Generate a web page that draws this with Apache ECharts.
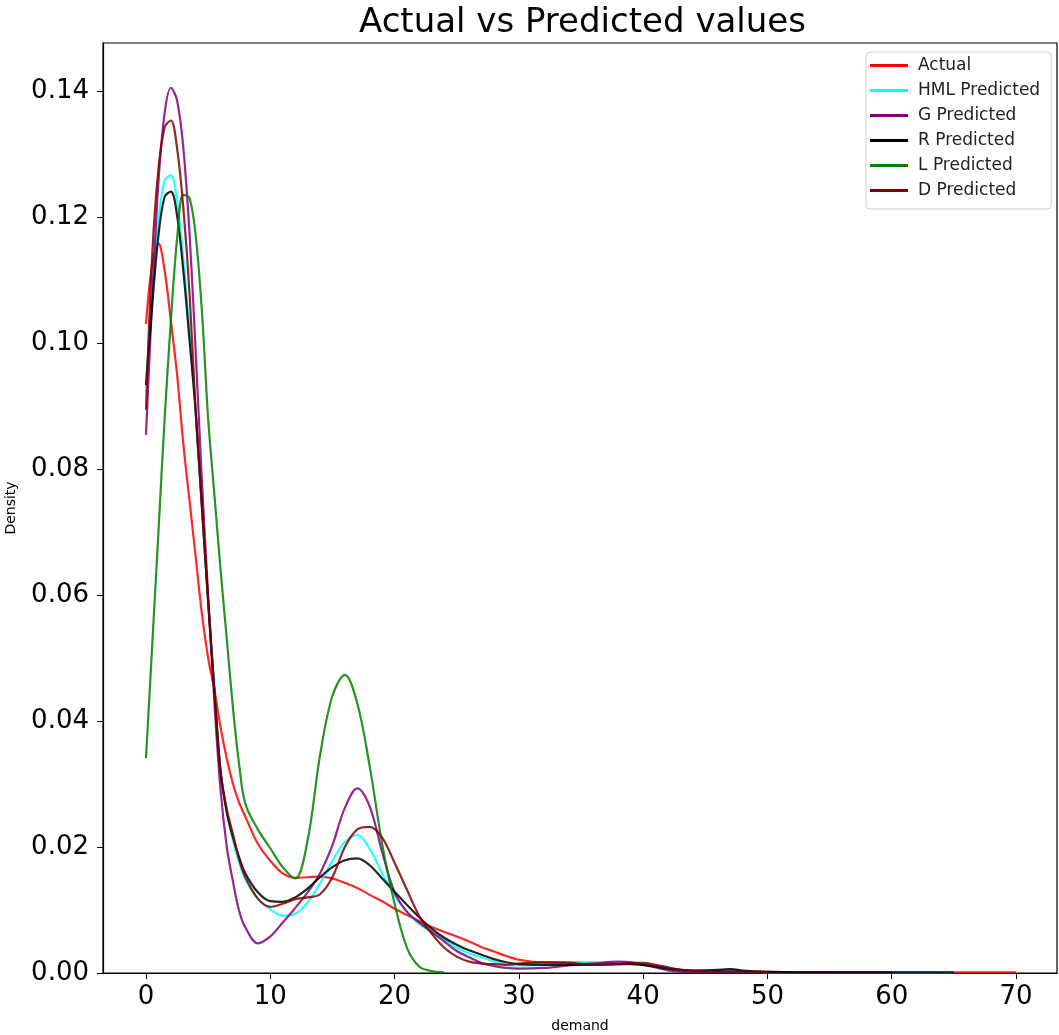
<!DOCTYPE html>
<html>
<head>
<meta charset="utf-8">
<title>Actual vs Predicted values</title>
<script src="https://cdn.jsdelivr.net/npm/echarts@6/dist/echarts.min.js"></script>
<style>
  html, body { margin: 0; padding: 0; background: #fff; }
  #chart { width: 1059px; height: 1035px; }
</style>
</head>
<body>
<div id="chart"></div>
<script>
// demand grid the KDE curves were read at
const demand = [0, 0.5, 1, 1.5, 2, 2.5, 3, 3.5, 4, 4.5, 5, 5.5, 6, 6.5, 7, 7.5, 8, 9, 10, 11,
  12, 13, 14, 15, 16, 17, 18, 19, 20, 21, 22, 23, 24, 25, 26, 27, 28, 29, 30, 32,
  34, 36, 38, 39, 40, 41, 42, 43, 44, 46, 47, 48, 50, 55, 60, 65, 70]

const actual = [0.103, 0.1125, 0.1158, 0.1115, 0.1035, 0.095, 0.084, 0.075, 0.066, 0.057, 0.050, 0.045, 0.039, 0.034, 0.030, 0.027, 0.0248, 0.0205, 0.0178, 0.0158,
  0.0151, 0.0152, 0.0153, 0.0150, 0.0143, 0.0135, 0.0124, 0.0114, 0.0102, 0.0092, 0.0082, 0.0073, 0.0065, 0.0058, 0.0050, 0.0041, 0.0034, 0.0027, 0.0021, 0.0017,
  0.0017, 0.0016, 0.0016, 0.0015, 0.0013, 0.0011, 0.0008, 0.0005, 0.0004, 0.0003, 0.0003, 0.0002, 0.0002, 0.0001, 0.0001, 0.0001, 0.0001]

const hmlPredicted = [0.0933, 0.108, 0.1195, 0.1258, 0.1266, 0.1225, 0.1135, 0.102, 0.089, 0.074, 0.059, 0.045, 0.032, 0.0255, 0.021, 0.0175, 0.0148, 0.0118, 0.0101, 0.0091,
  0.0094, 0.0112, 0.0142, 0.0178, 0.0208, 0.0219, 0.0197, 0.0158, 0.0123, 0.0097, 0.0077, 0.0065, 0.0054, 0.0040, 0.0031, 0.0025, 0.0018, 0.0013, 0.0012, 0.0013,
  0.0015, 0.0017, 0.0017, 0.0016, 0.0013, 0.0010, 0.0006, 0.0004, 0.0003, 0.0005, 0.0006, 0.0004, 0.0001, 0.0001, 0.0001, 0.0001]

const gPredicted = [0.0854, 0.107, 0.1255, 0.1365, 0.1405, 0.1385, 0.131, 0.1175, 0.0985, 0.078, 0.060, 0.043, 0.029, 0.020, 0.0145, 0.0098, 0.0072, 0.0047, 0.0058, 0.0080,
  0.0103, 0.0128, 0.0158, 0.0203, 0.0262, 0.0293, 0.0264, 0.0192, 0.0128, 0.0097, 0.0080, 0.0065, 0.0050, 0.0035, 0.0025, 0.0016, 0.0011, 0.0008, 0.0007, 0.0008,
  0.0012, 0.0015, 0.0018, 0.0017, 0.0013, 0.0009, 0.0004, 0.0002, 0.0001, 0.0001, 0.0001, 0.0001, 0.0001, 0.0001, 0.0001]

const rPredicted = [0.0933, 0.106, 0.117, 0.1232, 0.1240, 0.1202, 0.1115, 0.1005, 0.089, 0.074, 0.059, 0.045, 0.032, 0.0255, 0.0215, 0.0183, 0.0158, 0.0128, 0.0114, 0.0113,
  0.0120, 0.0134, 0.0152, 0.0168, 0.0179, 0.0182, 0.0171, 0.0150, 0.0129, 0.0108, 0.0088, 0.0070, 0.0056, 0.0045, 0.0036, 0.0029, 0.0022, 0.0017, 0.0014, 0.0013,
  0.0013, 0.0013, 0.0014, 0.0014, 0.0013, 0.0010, 0.0007, 0.0005, 0.0004, 0.0005, 0.0006, 0.0004, 0.0002, 0.0001, 0.0001, 0.0001]

const lPredicted = [0.0341, 0.052, 0.070, 0.088, 0.1035, 0.1165, 0.1235, 0.123, 0.117, 0.105, 0.088, 0.076, 0.064, 0.053, 0.042, 0.033, 0.0268, 0.0228, 0.0198, 0.0168,
  0.0150, 0.0210, 0.0345, 0.0440, 0.0473, 0.0428, 0.0328, 0.0205, 0.0110, 0.0040, 0.0010, 0.0003, 0.0001]

const dPredicted = [0.0894, 0.114, 0.1276, 0.1342, 0.1353, 0.1309, 0.1215, 0.108, 0.089, 0.074, 0.059, 0.045, 0.032, 0.026, 0.022, 0.018, 0.0152, 0.0118, 0.0105, 0.0110,
  0.0117, 0.0120, 0.0125, 0.0152, 0.0200, 0.0228, 0.0232, 0.0215, 0.0175, 0.0132, 0.0090, 0.0062, 0.0040, 0.0026, 0.0018, 0.0015, 0.0014, 0.0013, 0.0015, 0.0017,
  0.0016, 0.0013, 0.0014, 0.0016, 0.0016, 0.0013, 0.0009, 0.0005, 0.0003, 0.0002, 0.0002, 0.0002, 0.0001]

const seriesNames = ['Actual', 'HML Predicted', 'G Predicted', 'R Predicted', 'L Predicted', 'D Predicted']
const seriesColors = ['#ff0000', '#00ffff', '#800080', '#000000', '#008000', '#800000']
const xTicks = [0, 10, 20, 30, 40, 50, 60, 70]
const yTicks = [0, 0.02, 0.04, 0.06, 0.08, 0.1, 0.12, 0.14]

const font = 'DejaVu Sans'
const chart = echarts.init(document.getElementById('chart'))

function toPairs(vals) {
  return vals.map((v, i) => [demand[i], v])
}

const allValues = [actual, hmlPredicted, gPredicted, rPredicted, lPredicted, dPredicted]

chart.setOption({
  animation: false,
  backgroundColor: '#fff',
  title: {
    text: 'Actual vs Predicted values',
    left: 354,
    top: 1,
    textStyle: { fontFamily: font, fontSize: 34, fontWeight: 'normal', color: '#000' }
  },
  grid: {
    left: 103,
    right: 2,
    top: 43,
    bottom: 62,
    outerBoundsMode: 'none',
    containLabel: false,
    show: true,
    borderColor: '#000',
    borderWidth: 1.2
  },
  legend: {
    orient: 'vertical',
    left: 866,
    top: 52,
    data: seriesNames,
    icon: 'rect',
    itemWidth: 38,
    itemHeight: 3,
    itemGap: 8,
    padding: [5, 11, 10, 4],
    borderColor: '#d0d0d0',
    borderWidth: 1,
    borderRadius: 4,
    backgroundColor: '#fff',
    textStyle: { fontFamily: font, fontSize: 17, color: '#222', lineHeight: 17, padding: [0, 0, 0, 5] }
  },
  xAxis: {
    type: 'value',
    min: -3.46,
    max: 73.3,
    name: 'demand',
    nameLocation: 'middle',
    nameGap: 46,
    nameTextStyle: { fontFamily: font, fontSize: 14, color: '#000' },
    axisLine: { show: true, onZero: false, lineStyle: { color: '#000', width: 1.2 } },
    axisTick: { show: true, length: 6, customValues: xTicks, lineStyle: { color: '#000' } },
    axisLabel: { customValues: xTicks, fontFamily: font, fontSize: 26, color: '#000', margin: 11 },
    splitLine: { show: false }
  },
  yAxis: {
    type: 'value',
    min: 0,
    max: 0.1476,
    name: 'Density',
    nameLocation: 'middle',
    nameGap: 85,
    nameRotate: 90,
    nameTextStyle: { fontFamily: font, fontSize: 14, color: '#000' },
    axisLine: { show: true, onZero: false, lineStyle: { color: '#000', width: 1.2 } },
    axisTick: { show: true, length: 6, customValues: yTicks, lineStyle: { color: '#000' } },
    axisLabel: {
      customValues: yTicks,
      fontFamily: font,
      fontSize: 26,
      color: '#000',
      margin: 14,
      formatter: v => v.toFixed(2)
    },
    splitLine: { show: false }
  },
  series: seriesNames.map((name, k) => ({
    name: name,
    type: 'line',
    data: toPairs(allValues[k]),
    showSymbol: false,
    smooth: 0.35,
    color: seriesColors[k],
    lineStyle: { width: 2.2, opacity: 0.85 },
    emphasis: { disabled: true }
  }))
})
</script>
</body>
</html>
